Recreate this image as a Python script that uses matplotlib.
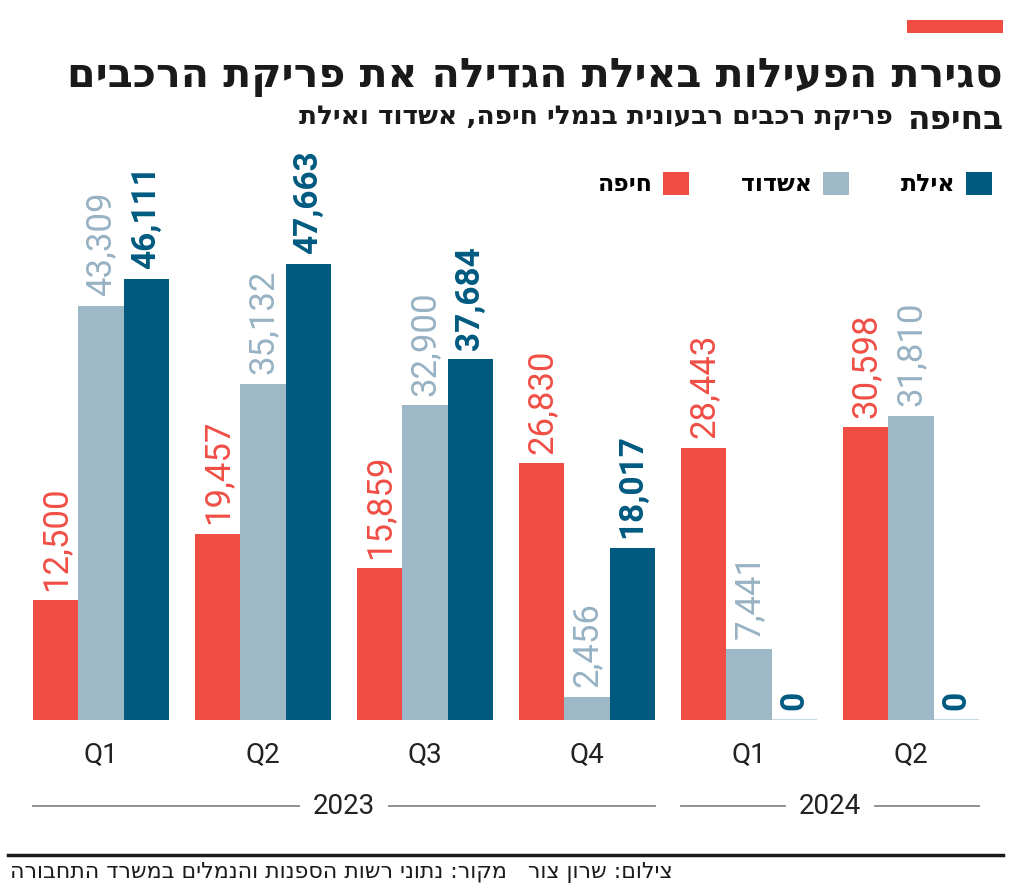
import matplotlib
matplotlib.use('Agg')
import matplotlib.pyplot as plt
import numpy as np
from matplotlib.patches import Rectangle, Patch
from matplotlib.lines import Line2D
from matplotlib.transforms import blended_transform_factory

# ---------------- data ----------------
quarters = ['Q1', 'Q2', 'Q3', 'Q4', 'Q1', 'Q2']
years = ['2023', '2024']
year_members = [[0, 1, 2, 3], [4, 5]]
ports = ['חיפה', 'אשדוד', 'אילת']
haifa = [12500, 19457, 15859, 26830, 28443, 30598]
ashdod = [43309, 35132, 32900, 2456, 7441, 31810]
eilat = [46111, 47663, 37684, 18017, 0, 0]

title_line1 = 'סגירת הפעילות באילת הגדילה את פריקת הרכבים'
title_line2 = 'בחיפה'
subtitle = 'פריקת רכבים רבעונית בנמלי חיפה, אשדוד ואילת'
footer = 'צילום: שרון צור   מקור: נתוני רשות הספנות והנמלים במשרד התחבורה'

# ---------------- style ----------------
RED = '#F04E45'
LIGHT = '#9DB9C8'
LIGHT_TXT = '#97B2C3'
DARK = '#005A80'
BASE = '#C9D8E3'

HEB = ['DejaVu Sans']
NUM = ['Roboto', 'DejaVu Sans']


def rtl(s):
    return s[::-1]


W, H = 1024, 893
fig = plt.figure(figsize=(W / 100, H / 100), dpi=100)
fig.patch.set_facecolor('white')


def fx(px):
    return px / W


def fy(py):
    return 1 - py / H


# axes: baseline at y=720 px, 60000 -> ~574 px
ax = fig.add_axes([fx(20), fy(720), fx(972), 574 / H])
ax.set_ylim(0, 60000)
ax.set_xlim(-0.5, 5.5)
for s in ax.spines.values():
    s.set_visible(False)
ax.set_yticks([])

x = np.arange(len(quarters))
w = 0.28
series = [
    (haifa, RED, RED, 'normal', 25),
    (ashdod, LIGHT, LIGHT_TXT, 'normal', 25),
    (eilat, DARK, DARK, 'bold', 24),
]
for i, (vals, col, tcol, wt, fs) in enumerate(series):
    pos = x + (i - 1) * w
    bars = ax.bar(pos, vals, width=w, color=col, linewidth=0)
    for b, v in zip(bars, vals):
        ax.annotate(f'{v:,}', (b.get_x() + b.get_width() / 2, v),
                    xytext=(0, 7), textcoords='offset points',
                    rotation=90, ha='center', va='bottom',
                    color=tcol, fontsize=fs, fontweight=wt, family=NUM)

# light baseline under each group
ax.hlines(np.zeros(len(x)), x - 1.5 * w, x + 1.5 * w, color=BASE, lw=1.5,
          zorder=0)

ax.set_xticks(x, quarters)
ax.tick_params(axis='x', length=0, pad=16)
for lab in ax.get_xticklabels():
    lab.set_fontsize(20)
    lab.set_family(NUM)
    lab.set_color('#222222')

# year labels with lines
tr = blended_transform_factory(ax.transData, fig.transFigure)
yy = fy(806)
for yr, mem in zip(years, year_members):
    x0 = mem[0] - 1.5 * w
    x1 = mem[-1] + 1.5 * w
    xc = (x0 + x1) / 2
    gap = 0.28
    ax.text(xc, yy, yr, transform=tr, ha='center', va='center',
            fontsize=20, family=NUM, color='#222222')
    ax.plot([x0, xc - gap], [yy, yy], transform=tr, color='#888888',
            lw=1.3, clip_on=False)
    ax.plot([xc + gap, x1], [yy, yy], transform=tr, color='#888888',
            lw=1.3, clip_on=False)

# legend
handles = [Patch(facecolor=c, edgecolor='none') for c in (RED, LIGHT, DARK)]
ax.legend(handles, [rtl(p) for p in ports], ncol=3, markerfirst=False,
          loc='upper right', bbox_to_anchor=(fx(992), fy(172)),
          bbox_transform=fig.transFigure, frameon=False,
          prop={'family': HEB, 'weight': 'bold', 'size': 17},
          handlelength=1.1, handleheight=1.1, handletextpad=0.45,
          columnspacing=2.2, borderpad=0, borderaxespad=0)

# title block
fig.add_artist(Rectangle((fx(907), fy(33)), fx(96), 13 / H,
                         transform=fig.transFigure, color=RED, lw=0))

renderer = fig.canvas.get_renderer()


def fit_text(xp, yp, s, target_w, size, **kw):
    t = fig.text(fx(xp), fy(yp), s, fontsize=size, **kw)
    bb = t.get_window_extent(renderer=renderer)
    t.set_fontsize(size * target_w / bb.width)
    return t


fit_text(1003, 87, rtl(title_line1), 933, 40, ha='right', va='baseline',
         family=HEB, fontweight='bold', color='#1a1a1a')
fit_text(1003, 129, rtl(title_line2), 96, 40, ha='right', va='baseline',
         family=HEB, fontweight='bold', color='#1a1a1a')
fit_text(893, 124, rtl(subtitle), 595, 20, ha='right', va='baseline',
         family=HEB, fontweight='bold', color='#1a1a1a')

# footer
fig.add_artist(Line2D([fx(8), fx(1003)], [fy(855), fy(855)],
                      transform=fig.transFigure, color='#1a1a1a', lw=2.5))
fit_text(10, 878, rtl(footer), 665, 14, ha='left', va='baseline',
         family=HEB, color='#1a1a1a')

fig.savefig('out.png', dpi=100, facecolor='white')
